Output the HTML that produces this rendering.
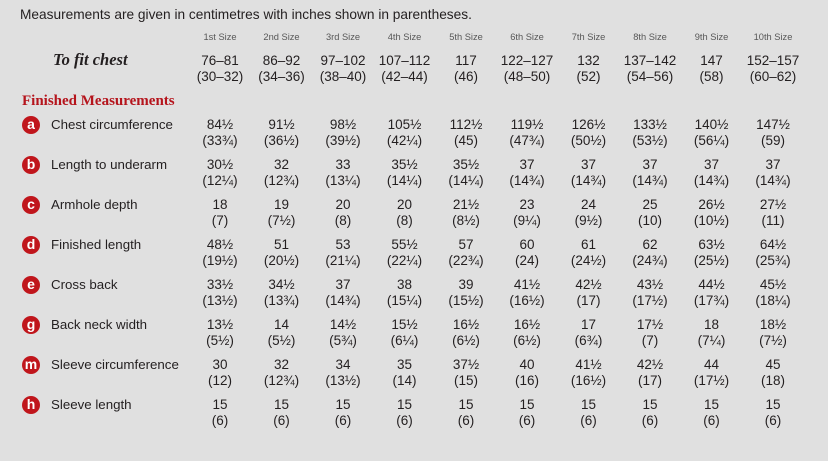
<!DOCTYPE html>
<html><head><meta charset="utf-8">
<style>
html,body{margin:0;padding:0;}
body{width:828px;height:461px;background:#e0e0e0;position:relative;overflow:hidden;font-family:"Liberation Sans",sans-serif;color:#231f20;}
.a{position:absolute;white-space:nowrap;}
.hdr{left:20px;top:6px;font-size:13.7px;line-height:18px;}
.sz{font-size:9.3px;color:#575757;width:60px;text-align:center;top:31px;line-height:12px;}
.fit{left:53px;top:50px;font-family:"Liberation Serif",serif;font-style:italic;font-weight:bold;font-size:16.5px;line-height:20px;}
.fm{left:22px;top:91px;font-family:"Liberation Serif",serif;font-weight:bold;font-size:15px;color:#b5141c;line-height:20px;}
.v{width:70px;text-align:center;font-size:13.5px;line-height:16px;}
.ic{width:18px;height:18px;border-radius:50%;background:#c0161c;color:#fff;font-weight:bold;font-size:14px;line-height:17px;text-align:center;left:22px;}
.lb{left:51px;font-size:13.3px;line-height:16px;}
</style></head><body>
<div class="a hdr">Measurements are given in centimetres with inches shown in parentheses.</div>

<div class="a sz" style="left:190px">1st Size</div>
<div class="a sz" style="left:251.5px">2nd Size</div>
<div class="a sz" style="left:313px">3rd Size</div>
<div class="a sz" style="left:374.5px">4th Size</div>
<div class="a sz" style="left:436px">5th Size</div>
<div class="a sz" style="left:497px">6th Size</div>
<div class="a sz" style="left:558.5px">7th Size</div>
<div class="a sz" style="left:620px">8th Size</div>
<div class="a sz" style="left:681.5px">9th Size</div>
<div class="a sz" style="left:743px">10th Size</div>

<div class="a fit">To fit chest</div>
<div class="a v" style="left:185px;top:53px">76–81<br>(30–32)</div>
<div class="a v" style="left:246.5px;top:53px">86–92<br>(34–36)</div>
<div class="a v" style="left:308px;top:53px">97–102<br>(38–40)</div>
<div class="a v" style="left:369.5px;top:53px">107–112<br>(42–44)</div>
<div class="a v" style="left:431px;top:53px">117<br>(46)</div>
<div class="a v" style="left:492px;top:53px">122–127<br>(48–50)</div>
<div class="a v" style="left:553.5px;top:53px">132<br>(52)</div>
<div class="a v" style="left:615px;top:53px">137–142<br>(54–56)</div>
<div class="a v" style="left:676.5px;top:53px">147<br>(58)</div>
<div class="a v" style="left:738px;top:53px">152–157<br>(60–62)</div>

<div class="a fm">Finished Measurements</div>

<!-- row a -->
<div class="a ic" style="top:116px">a</div>
<div class="a lb" style="top:117px">Chest circumference</div>
<div class="a v" style="left:185px;top:117px">84½<br>(33¾)</div>
<div class="a v" style="left:246.5px;top:117px">91½<br>(36½)</div>
<div class="a v" style="left:308px;top:117px">98½<br>(39½)</div>
<div class="a v" style="left:369.5px;top:117px">105½<br>(42¼)</div>
<div class="a v" style="left:431px;top:117px">112½<br>(45)</div>
<div class="a v" style="left:492px;top:117px">119½<br>(47¾)</div>
<div class="a v" style="left:553.5px;top:117px">126½<br>(50½)</div>
<div class="a v" style="left:615px;top:117px">133½<br>(53½)</div>
<div class="a v" style="left:676.5px;top:117px">140½<br>(56¼)</div>
<div class="a v" style="left:738px;top:117px">147½<br>(59)</div>

<!-- row b -->
<div class="a ic" style="top:156px">b</div>
<div class="a lb" style="top:157px">Length to underarm</div>
<div class="a v" style="left:185px;top:157px">30½<br>(12¼)</div>
<div class="a v" style="left:246.5px;top:157px">32<br>(12¾)</div>
<div class="a v" style="left:308px;top:157px">33<br>(13¼)</div>
<div class="a v" style="left:369.5px;top:157px">35½<br>(14¼)</div>
<div class="a v" style="left:431px;top:157px">35½<br>(14¼)</div>
<div class="a v" style="left:492px;top:157px">37<br>(14¾)</div>
<div class="a v" style="left:553.5px;top:157px">37<br>(14¾)</div>
<div class="a v" style="left:615px;top:157px">37<br>(14¾)</div>
<div class="a v" style="left:676.5px;top:157px">37<br>(14¾)</div>
<div class="a v" style="left:738px;top:157px">37<br>(14¾)</div>

<!-- row c -->
<div class="a ic" style="top:196px">c</div>
<div class="a lb" style="top:197px">Armhole depth</div>
<div class="a v" style="left:185px;top:197px">18<br>(7)</div>
<div class="a v" style="left:246.5px;top:197px">19<br>(7½)</div>
<div class="a v" style="left:308px;top:197px">20<br>(8)</div>
<div class="a v" style="left:369.5px;top:197px">20<br>(8)</div>
<div class="a v" style="left:431px;top:197px">21½<br>(8½)</div>
<div class="a v" style="left:492px;top:197px">23<br>(9¼)</div>
<div class="a v" style="left:553.5px;top:197px">24<br>(9½)</div>
<div class="a v" style="left:615px;top:197px">25<br>(10)</div>
<div class="a v" style="left:676.5px;top:197px">26½<br>(10½)</div>
<div class="a v" style="left:738px;top:197px">27½<br>(11)</div>

<!-- row d -->
<div class="a ic" style="top:236px">d</div>
<div class="a lb" style="top:237px">Finished length</div>
<div class="a v" style="left:185px;top:237px">48½<br>(19½)</div>
<div class="a v" style="left:246.5px;top:237px">51<br>(20½)</div>
<div class="a v" style="left:308px;top:237px">53<br>(21¼)</div>
<div class="a v" style="left:369.5px;top:237px">55½<br>(22¼)</div>
<div class="a v" style="left:431px;top:237px">57<br>(22¾)</div>
<div class="a v" style="left:492px;top:237px">60<br>(24)</div>
<div class="a v" style="left:553.5px;top:237px">61<br>(24½)</div>
<div class="a v" style="left:615px;top:237px">62<br>(24¾)</div>
<div class="a v" style="left:676.5px;top:237px">63½<br>(25½)</div>
<div class="a v" style="left:738px;top:237px">64½<br>(25¾)</div>

<!-- row e -->
<div class="a ic" style="top:276px">e</div>
<div class="a lb" style="top:277px">Cross back</div>
<div class="a v" style="left:185px;top:277px">33½<br>(13½)</div>
<div class="a v" style="left:246.5px;top:277px">34½<br>(13¾)</div>
<div class="a v" style="left:308px;top:277px">37<br>(14¾)</div>
<div class="a v" style="left:369.5px;top:277px">38<br>(15¼)</div>
<div class="a v" style="left:431px;top:277px">39<br>(15½)</div>
<div class="a v" style="left:492px;top:277px">41½<br>(16½)</div>
<div class="a v" style="left:553.5px;top:277px">42½<br>(17)</div>
<div class="a v" style="left:615px;top:277px">43½<br>(17½)</div>
<div class="a v" style="left:676.5px;top:277px">44½<br>(17¾)</div>
<div class="a v" style="left:738px;top:277px">45½<br>(18¼)</div>

<!-- row g -->
<div class="a ic" style="top:316px">g</div>
<div class="a lb" style="top:317px">Back neck width</div>
<div class="a v" style="left:185px;top:317px">13½<br>(5½)</div>
<div class="a v" style="left:246.5px;top:317px">14<br>(5½)</div>
<div class="a v" style="left:308px;top:317px">14½<br>(5¾)</div>
<div class="a v" style="left:369.5px;top:317px">15½<br>(6¼)</div>
<div class="a v" style="left:431px;top:317px">16½<br>(6½)</div>
<div class="a v" style="left:492px;top:317px">16½<br>(6½)</div>
<div class="a v" style="left:553.5px;top:317px">17<br>(6¾)</div>
<div class="a v" style="left:615px;top:317px">17½<br>(7)</div>
<div class="a v" style="left:676.5px;top:317px">18<br>(7¼)</div>
<div class="a v" style="left:738px;top:317px">18½<br>(7½)</div>

<!-- row m -->
<div class="a ic" style="top:356px">m</div>
<div class="a lb" style="top:357px">Sleeve circumference</div>
<div class="a v" style="left:185px;top:357px">30<br>(12)</div>
<div class="a v" style="left:246.5px;top:357px">32<br>(12¾)</div>
<div class="a v" style="left:308px;top:357px">34<br>(13½)</div>
<div class="a v" style="left:369.5px;top:357px">35<br>(14)</div>
<div class="a v" style="left:431px;top:357px">37½<br>(15)</div>
<div class="a v" style="left:492px;top:357px">40<br>(16)</div>
<div class="a v" style="left:553.5px;top:357px">41½<br>(16½)</div>
<div class="a v" style="left:615px;top:357px">42½<br>(17)</div>
<div class="a v" style="left:676.5px;top:357px">44<br>(17½)</div>
<div class="a v" style="left:738px;top:357px">45<br>(18)</div>

<!-- row h -->
<div class="a ic" style="top:396px">h</div>
<div class="a lb" style="top:397px">Sleeve length</div>
<div class="a v" style="left:185px;top:397px">15<br>(6)</div>
<div class="a v" style="left:246.5px;top:397px">15<br>(6)</div>
<div class="a v" style="left:308px;top:397px">15<br>(6)</div>
<div class="a v" style="left:369.5px;top:397px">15<br>(6)</div>
<div class="a v" style="left:431px;top:397px">15<br>(6)</div>
<div class="a v" style="left:492px;top:397px">15<br>(6)</div>
<div class="a v" style="left:553.5px;top:397px">15<br>(6)</div>
<div class="a v" style="left:615px;top:397px">15<br>(6)</div>
<div class="a v" style="left:676.5px;top:397px">15<br>(6)</div>
<div class="a v" style="left:738px;top:397px">15<br>(6)</div>
</body></html>
